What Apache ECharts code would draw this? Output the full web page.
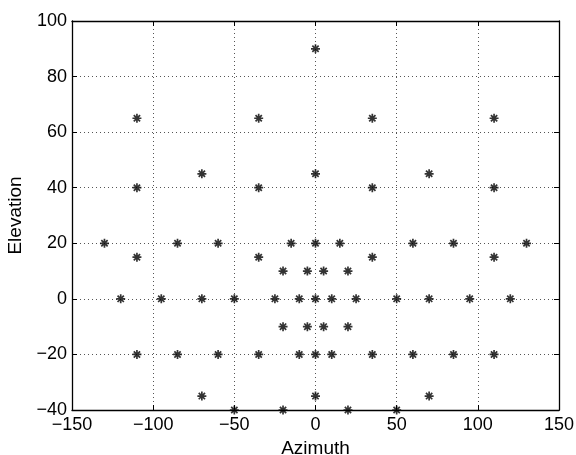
<!DOCTYPE html>
<html><head><meta charset="utf-8">
<script src="https://cdn.jsdelivr.net/npm/echarts@6/dist/echarts.min.js"></script>
<style>html,body{margin:0;padding:0;background:#fff}#c{width:576px;height:455px}</style>
</head><body><div id="c"></div>
<script>
var azimuth = [0,
  -110,-35,35,110,
  -70,0,70,
  -110,-35,35,110,
  -130,-85,-60,-15,0,15,60,85,130,
  -110,-35,35,110,
  -20,-5,5,20,
  -120,-95,-70,-50,-25,-10,0,10,25,50,70,95,120,
  -20,-5,5,20,
  -110,-85,-60,-35,-10,0,10,35,60,85,110,
  -70,0,70,
  -50,-20,20,50];
var elevation = [90,
  65,65,65,65,
  45,45,45,
  40,40,40,40,
  20,20,20,20,20,20,20,20,20,
  15,15,15,15,
  10,10,10,10,
  0,0,0,0,0,0,0,0,0,0,0,0,0,
  -10,-10,-10,-10,
  -20,-20,-20,-20,-20,-20,-20,-20,-20,-20,-20,
  -35,-35,-35,
  -40,-40,-40,-40];
var xTicks = [-150,150,50];
var yTicks = [-40,100,20];
var xLabel = 'Azimuth', yLabel = 'Elevation';

var pts = azimuth.map(function(a,i){return [a, elevation[i]];});
var fmt = function(v){return String(v).replace('-', '\u2212');};
var font = 'Liberation Sans, Arial, sans-serif';
var gridLine = {show:true, lineStyle:{color:'#555', type:[1,3], width:1}};
var axLine = {show:true, onZero:false, lineStyle:{color:'#000',width:1.3}};
var axTick = {show:true, inside:true, length:5, lineStyle:{color:'#000'}};
var chart = echarts.init(document.getElementById('c'));
var star = 'path://M0,-10L0,10M-10,0L10,0M-7,-7L7,7M-7,7L7,-7';
chart.setOption({
  animation:false,
  grid:{left:72, right:17, top:21, bottom:45, containLabel:false, outerBoundsMode:'none'},
  xAxis:[{type:'value', min:xTicks[0], max:xTicks[1], interval:xTicks[2], position:'bottom',
    axisLine:axLine, axisTick:axTick,
    axisLabel:{formatter:fmt, color:'#000', fontSize:18, fontFamily:font, margin:6},
    splitLine:gridLine,
    name:xLabel, nameLocation:'middle', nameGap:24, nameTextStyle:{color:'#000', fontSize:19, fontFamily:font}},
   {type:'value', min:xTicks[0], max:xTicks[1], interval:xTicks[2], position:'top',
    axisLine:axLine, axisTick:axTick, axisLabel:{show:false}, splitLine:{show:false}}],
  yAxis:[{type:'value', min:yTicks[0], max:yTicks[1], interval:yTicks[2], position:'left',
    axisLine:axLine, axisTick:axTick,
    axisLabel:{formatter:fmt, color:'#000', fontSize:18, fontFamily:font, margin:5},
    splitLine:gridLine,
    name:yLabel, nameLocation:'middle', nameGap:44, nameRotate:90, nameTextStyle:{color:'#000', fontSize:19, fontFamily:font}},
   {type:'value', min:yTicks[0], max:yTicks[1], interval:yTicks[2], position:'right',
    axisLine:axLine, axisTick:axTick, axisLabel:{show:false}, splitLine:{show:false}}],
  series:[{type:'scatter', xAxisIndex:0, yAxisIndex:0, data:pts, symbol:star, symbolSize:9,
    itemStyle:{color:'none', borderColor:'#000', borderWidth:1.7}, clip:false}]
});
</script></body></html>
